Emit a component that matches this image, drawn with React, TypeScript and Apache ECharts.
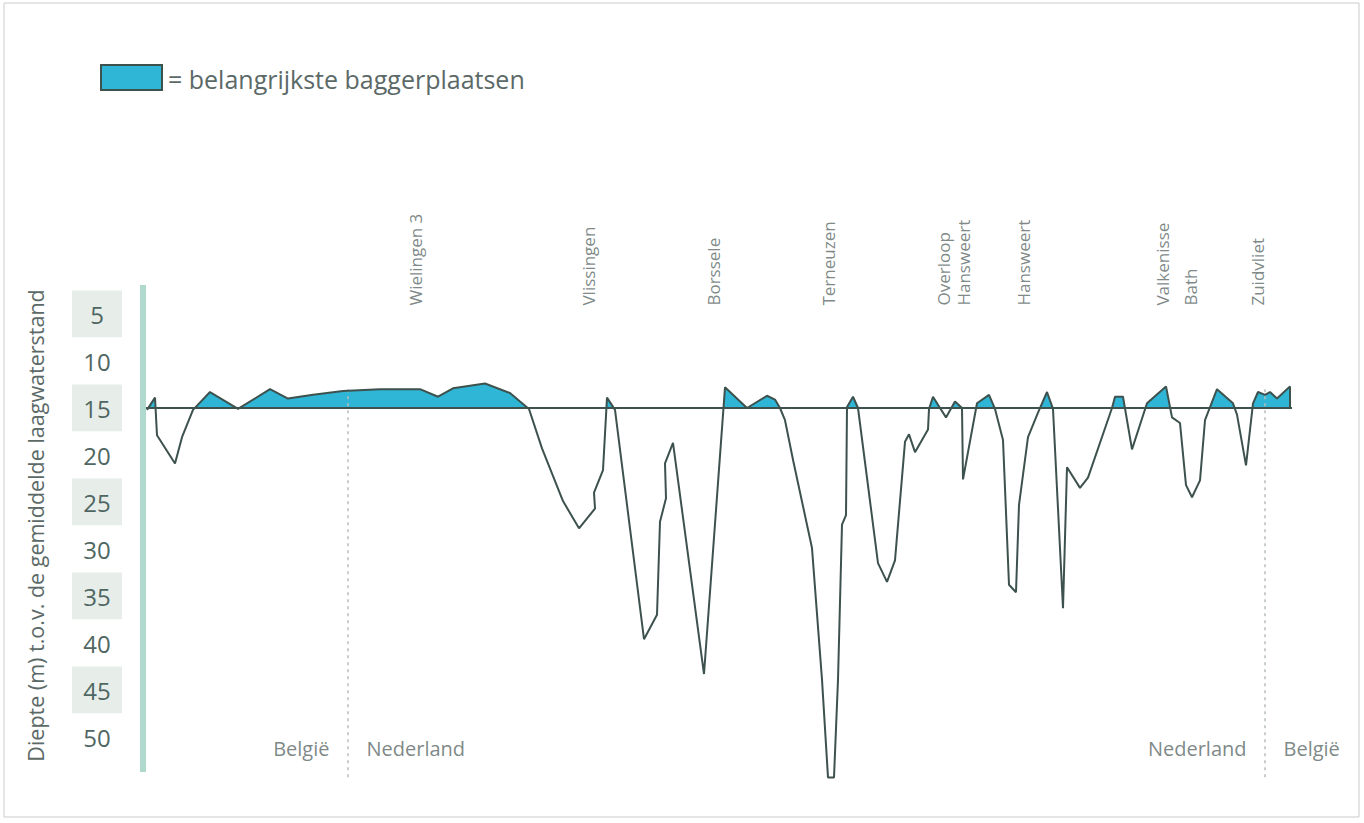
import { useEffect, useRef } from 'react';
import * as echarts from 'echarts';

// distance along the channel (arbitrary units) and depth (m) of the profile
const distance = [
  0.1, 0.9, 1.1, 2.9, 3.6, 4.7, 6.4, 9.2, 12.4, 14.2, 16.7, 19.7, 23.4, 27.4, 29.2, 30.7, 33.9, 36.4, 37.4, 38.3,
  39.6, 41.7, 43.3, 44.9, 44.8, 45.7, 46.1, 46.9, 49.8, 51.1, 51.4, 52.0, 51.9, 52.7, 55.8, 57.9, 60.1, 62.1, 62.9, 63.4,
  63.9, 64.7, 66.6, 67.6, 68.2, 68.8, 69.2, 69.6, 70.0, 70.1, 70.7, 71.2, 73.2, 74.1, 74.9, 75.9, 76.3, 76.9, 78.2, 78.3,
  78.7, 79.4, 80.0, 80.9, 81.6, 81.7, 83.1, 84.3, 84.9, 85.7, 86.3, 87.0, 87.3, 88.2, 89.2, 90.1, 90.7, 91.7, 92.1, 93.4,
  94.2, 96.6, 96.9, 97.7, 98.6, 100.1, 102.0, 102.6, 103.4, 104.0, 104.6, 105.4, 105.9, 107.1, 108.7, 109.1, 110.0, 110.7, 111.2, 111.9,
  112.4, 113.1, 114.4, 114.4,
];
const depth = [
  15.2, 13.9, 17.9, 20.9, 18.1, 15.2, 13.3, 15.1, 13.0, 14.0, 13.6, 13.2, 13.0, 13.0, 13.8, 12.9, 12.4, 13.4, 14.3, 15.1,
  19.3, 24.9, 27.8, 25.7, 24.0, 21.6, 13.9, 15.2, 39.6, 37.0, 27.1, 24.6, 20.9, 18.7, 43.3, 12.8, 15.0, 13.7, 14.1, 15.0,
  16.3, 20.5, 29.9, 43.9, 54.3, 54.3, 43.9, 27.4, 26.4, 14.9, 13.8, 15.0, 31.5, 33.5, 31.2, 18.6, 17.8, 19.7, 17.3, 15.1,
  13.8, 15.0, 16.0, 14.3, 15.0, 22.6, 14.5, 13.6, 15.1, 18.4, 33.8, 34.6, 25.3, 18.1, 15.5, 13.3, 15.1, 36.3, 21.3, 23.5,
  22.4, 15.0, 13.8, 13.8, 19.4, 14.5, 12.7, 16.0, 16.6, 23.2, 24.5, 22.7, 16.3, 13.0, 14.5, 15.7, 21.1, 14.5, 13.3, 13.6,
  13.3, 14.0, 12.7, 14.9,
];
const referenceDepth = 15;
const profileStart = 0;
const profileEnd = 114.6;

const locationNames = [
  'Wielingen 3', 'Vlissingen', 'Borssele', 'Terneuzen', 'Overloop\nHansweert',
  'Hansweert', 'Valkenisse', 'Bath', 'Zuidvliet',
];
const locationDistance = [26.9, 44.2, 56.7, 68.2, 80.7, 87.7, 101.6, 104.4, 111.1];
const locationLabelDepth = 4.1;

const borderDistance = [20.2, 111.9];
const borderTop = 13;
const borderBottom = 54.5;
const countryLeft = ['België', 'Nederland'];
const countryRight = ['Nederland', 'België'];
const countryLabelDepth = 51.2;

const yTickValues = [5, 10, 15, 20, 25, 30, 35, 40, 45, 50];

const FONT = '"Open Sans", "Noto Sans", sans-serif';
const TEXT = '#5b6967';
const LINE = '#3d524e';
const FILL = '#2fb5d5';

// clip the profile to the part shallower than the reference depth (for the fill)
function shallowPart(): number[][] {
  const out: number[][] = [];
  for (let i = 0; i < distance.length; i++) {
    if (i > 0) {
      const d0 = depth[i - 1] - referenceDepth;
      const d1 = depth[i] - referenceDepth;
      if ((d0 < 0 && d1 > 0) || (d0 > 0 && d1 < 0)) {
        const t = d0 / (d0 - d1);
        out.push([distance[i - 1] + t * (distance[i] - distance[i - 1]), referenceDepth]);
      }
    }
    out.push([distance[i], Math.min(depth[i], referenceDepth)]);
  }
  return out;
}

export default function App() {
  const ref = useRef<HTMLDivElement>(null);
  useEffect(() => {
    if (!ref.current) return;
    const chart = echarts.init(ref.current, undefined, { renderer: 'svg' });
    const profile = distance.map((d, i) => [d, depth[i]]);
    const option: any = {
      animation: false,
      backgroundColor: '#ffffff',
      textStyle: { fontFamily: FONT },
      grid: { left: 146, top: 267, width: 1146, height: 517 },
      xAxis: { type: 'value', min: 0, max: profileEnd, show: false },
      yAxis: {
        type: 'value', min: 0, max: 55, interval: 5, inverse: true,
        name: 'Diepte (m) t.o.v. de gemiddelde laagwaterstand',
        nameLocation: 'middle', nameRotate: 90, nameGap: 100,
        nameTextStyle: { color: TEXT, fontSize: 21.5, fontFamily: FONT },
        axisLine: { show: false }, axisTick: { show: false }, splitLine: { show: false },
        axisLabel: {
          margin: 24,
          formatter: (v: number) => {
            if (!yTickValues.includes(v)) return '';
            return (v / 5) % 2 === 1 ? `{a|${v}}` : `{b|${v}}`;
          },
          rich: {
            a: { width: 50, height: 47, lineHeight: 47, align: 'center', backgroundColor: '#e7eeea', fontSize: 24, color: '#4f6662', fontFamily: FONT },
            b: { width: 50, height: 47, lineHeight: 47, align: 'center', backgroundColor: '#ffffff', fontSize: 24, color: '#4f6662', fontFamily: FONT },
          },
        },
      },
      graphic: [
        { type: 'rect', shape: { x: 4, y: 3, width: 1355, height: 814 }, style: { fill: 'none', stroke: '#c9cccb', lineWidth: 1 }, silent: true },
        { type: 'rect', shape: { x: 140, y: 285, width: 6, height: 487 }, style: { fill: '#b0d9cd' }, silent: true },
        { type: 'rect', shape: { x: 101, y: 65, width: 61, height: 25 }, style: { fill: FILL, stroke: LINE, lineWidth: 2 } },
        { type: 'text', x: 168, y: 79, style: { text: '= belangrijkste baggerplaatsen', fill: TEXT, fontSize: 25, fontFamily: FONT, verticalAlign: 'middle' } },
      ],
      series: [
        {
          type: 'line', data: shallowPart(), symbol: 'none', lineStyle: { width: 0 },
          areaStyle: { color: FILL, opacity: 1, origin: referenceDepth }, z: 2,
        },
        {
          type: 'line',
          data: [
            [borderDistance[0], borderTop], [borderDistance[0], borderBottom], '-',
            [borderDistance[1], borderTop], [borderDistance[1], borderBottom],
          ],
          symbol: 'none', connectNulls: false,
          lineStyle: { color: '#b7bebc', width: 1.5, type: [3, 4] }, z: 3,
        },
        {
          type: 'line', data: [[profileStart, referenceDepth], [profileEnd, referenceDepth]],
          symbol: 'none', lineStyle: { color: LINE, width: 2 }, z: 4,
        },
        {
          type: 'line', data: profile, symbol: 'none', lineStyle: { color: LINE, width: 2 }, z: 5,
        },
        {
          type: 'scatter', symbolSize: 1, itemStyle: { color: 'transparent' },
          data: locationDistance.map((x, i) => ({ value: [x, locationLabelDepth], name: locationNames[i] })),
          label: {
            show: true, position: 'inside', rotate: 90, align: 'left', verticalAlign: 'middle',
            formatter: (p: any) => p.name, color: TEXT, fontSize: 17, lineHeight: 20, fontFamily: FONT,
          },
          z: 6,
        },
        {
          type: 'scatter', symbolSize: 1, itemStyle: { color: 'transparent' },
          data: borderDistance.map((b, i) => ({ value: [b, countryLabelDepth], name: countryLeft[i] })),
          label: { show: true, position: 'left', distance: 18, formatter: (p: any) => p.name, color: TEXT, fontSize: 20, fontFamily: FONT },
          z: 6,
        },
        {
          type: 'scatter', symbolSize: 1, itemStyle: { color: 'transparent' },
          data: borderDistance.map((b, i) => ({ value: [b, countryLabelDepth], name: countryRight[i] })),
          label: { show: true, position: 'right', distance: 18, formatter: (p: any) => p.name, color: TEXT, fontSize: 20, fontFamily: FONT },
          z: 6,
        },
      ],
    };
    chart.setOption(option);
    return () => chart.dispose();
  }, []);
  return (
    <div
      ref={ref}
      style={{ position: 'fixed', left: 0, top: 0, width: 1364, height: 823, background: '#fff' }}
    />
  );
}
